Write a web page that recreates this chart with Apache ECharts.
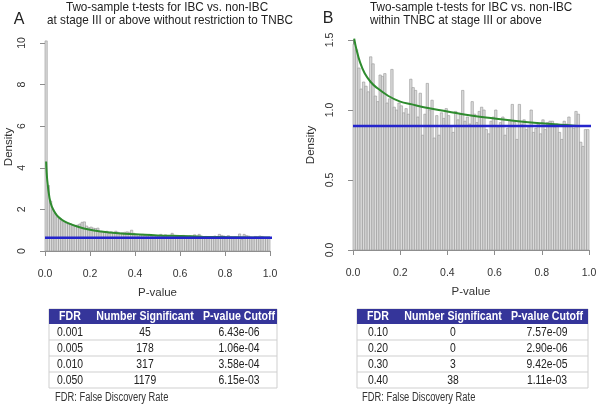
<!DOCTYPE html>
<html><head><meta charset="utf-8">
<script src="https://cdn.jsdelivr.net/npm/echarts@6/dist/echarts.min.js"></script>
<style>html,body{margin:0;padding:0;background:#fff}#c{width:600px;height:405px}</style>
</head><body><div id="c"></div>
<script>
// ---------- data ----------
const binWidth = 0.01;
const densityA = [
10.1,3.15,2.4,2.0,1.8,1.65,1.55,1.45,1.42,1.35,
1.3,1.3,1.25,1.2,1.25,1.3,1.38,1.4,1.2,1.12,
1.15,1.1,1.08,1.1,0.95,0.92,0.9,0.95,0.85,0.92,
0.88,0.95,0.9,0.85,0.88,0.9,0.92,0.9,1.0,0.85,
0.8,0.7,0.78,0.8,0.75,0.72,0.8,0.7,0.75,0.72,
0.7,0.8,0.72,0.78,0.72,0.68,0.85,0.75,0.7,0.72,
0.68,0.75,0.7,0.68,0.72,0.66,0.78,0.7,0.8,0.68,
0.65,0.7,0.66,0.68,0.64,0.72,0.68,0.8,0.75,0.72,
0.7,0.74,0.66,0.62,0.66,0.6,0.82,0.55,0.8,0.74,
0.72,0.66,0.6,0.7,0.68,0.72,0.7,0.66,0.62,0.6];
const densityB = [
1.47,1.43,1.30,1.15,1.20,1.17,1.13,1.38,1.33,1.10,
1.06,1.25,1.24,1.26,1.05,1.08,1.29,1.02,1.00,1.05,
1.03,0.98,1.01,0.97,1.22,1.16,1.14,0.95,1.12,0.82,
0.97,1.19,1.00,1.07,0.80,0.96,0.82,0.98,0.94,1.01,
0.96,0.88,0.84,0.99,0.93,0.97,1.14,0.92,0.95,0.90,
1.06,0.97,0.91,0.99,1.02,1.00,0.86,0.83,0.92,0.95,
1.00,0.88,0.91,0.95,0.82,0.87,0.93,1.04,0.91,0.79,
1.04,0.90,0.93,0.86,0.88,1.00,0.84,0.87,0.90,0.83,
0.93,0.86,0.91,0.92,0.92,0.88,0.90,0.84,0.79,0.92,
0.90,0.95,0.89,0.87,0.99,0.97,0.77,0.74,0.86,0.86];
const fitA = [[0.005,4.3],[0.01,3.4],[0.02,2.55],[0.03,2.15],[0.05,1.75],[0.075,1.5],[0.1,1.35],[0.15,1.15],[0.2,1.02],[0.25,0.94],[0.3,0.88],[0.4,0.8],[0.5,0.75],[0.6,0.72],[0.7,0.69],[0.8,0.67],[0.9,0.655],[1.0,0.645]];
const fitB = [[0.005,1.51],[0.015,1.43],[0.03,1.34],[0.05,1.26],[0.075,1.2],[0.1,1.16],[0.15,1.10],[0.2,1.06],[0.25,1.04],[0.3,1.02],[0.4,0.99],[0.5,0.96],[0.6,0.94],[0.7,0.92],[0.8,0.905],[0.9,0.893],[0.95,0.886]];
const pi0A = 0.64, pi0B = 0.886;
const lineSpan = [0, 1.04];
const titleA = ['Two-sample t-tests for IBC vs. non-IBC','at stage III or above without restriction to TNBC'];
const titleB = ['Two-sample t-tests for IBC vs. non-IBC','within TNBC at stage III or above'];
const tableHeader = ['FDR','Number Significant','P-value Cutoff'];
const tableARows = [['0.001','45','6.43e-06'],['0.005','178','1.06e-04'],['0.010','317','3.58e-04'],['0.050','1179','6.15e-03']];
const tableBRows = [['0.10','0','7.57e-09'],['0.20','0','2.90e-06'],['0.30','3','9.42e-05'],['0.40','38','1.11e-03']];
const footnote = 'FDR: False Discovery Rate';

// ---------- chart ----------
const FONT = 'Liberation Sans, Arial, sans-serif';
const AX = '#8c8c8c';
function histRender(params, api){
  const p0 = api.coord([api.value(0), api.value(2)]);
  const p1 = api.coord([api.value(1), 0]);
  return {type:'rect', shape:{x:p0[0], y:p0[1], width:p1[0]-p0[0], height:p1[1]-p0[1]},
    style:{fill:'#dadada', stroke:'#959595', lineWidth:0.6}};
}
function xAx(gi){
  return {gridIndex:gi, type:'value', min:0, max:1, interval:0.2, offset:9,
    axisLine:{lineStyle:{color:AX}}, axisTick:{length:5, lineStyle:{color:AX}},
    splitLine:{show:false},
    axisLabel:{formatter:v=>v.toFixed(1), color:'#333', fontSize:10.5, fontFamily:FONT, margin:9},
    name:'P-value', nameLocation:'middle', nameGap:27, nameTextStyle:{color:'#333', fontSize:11.5, fontFamily:FONT}};
}
function yAx(gi, max, iv, gap){
  return {gridIndex:gi, type:'value', min:0, max:max, interval:iv, offset:10,
    axisLine:{show:true, lineStyle:{color:AX}}, axisTick:{show:true, length:5, lineStyle:{color:AX}},
    splitLine:{show:false},
    axisLabel:{rotate:90, formatter:v=>(iv<1? v.toFixed(1): String(v)), color:'#333', fontSize:10.5, fontFamily:FONT, margin:7},
    name:'Density', nameLocation:'middle', nameRotate:90, nameGap:gap, nameTextStyle:{color:'#333', fontSize:11.5, fontFamily:FONT}};
}
function hist(gi, arr){
  return {type:'custom', xAxisIndex:gi, yAxisIndex:gi, renderItem:histRender, clip:false,
    encode:{x:[0,1], y:2}, data: arr.map((v,i)=>[i*binWidth,(i+1)*binWidth,v]), z:1};
}
function curve(gi, pts){
  return {type:'line', xAxisIndex:gi, yAxisIndex:gi, data:pts, smooth:0.4, symbol:'none', clip:false,
    lineStyle:{color:'#2e8b2e', width:2}, z:3};
}
function hline(gi, v){
  return {type:'line', xAxisIndex:gi, yAxisIndex:gi, data:lineSpan.map(x=>[x,v]), symbol:'none', clip:false,
    lineStyle:{color:'#2424cc', width:2.5}, z:4};
}
function txt(x, y, s, o){
  o = o || {};
  return {type:'text', x:x, y:y, scaleX:o.sx||0.87, z:10,
    style:{text:s, fill:o.fill||'#222', font:(o.bold?'bold ':'')+(o.size||12)+'px '+FONT,
      textAlign:o.align||'center', textVerticalAlign:'middle'}};
}
function table(x0, x1, cols, rows, top){
  const els = [];
  const hh = 15, rh = 16;
  const bottom = top + hh + rh*rows.length;
  els.push({type:'rect', shape:{x:x0, y:top, width:x1-x0, height:bottom-top}, style:{fill:'#fff', stroke:'#cfcfcf', lineWidth:1}});
  els.push({type:'rect', shape:{x:x0, y:top, width:x1-x0, height:hh}, style:{fill:'#35359a'}});
  tableHeader.forEach((h,j)=>els.push(txt(cols[j], top+hh/2+0.5, h, {bold:true, fill:'#fff', sx:0.85, size:12.5})));
  rows.forEach((r,i)=>{
    const y = top+hh+rh*i;
    if(i>0) els.push({type:'line', shape:{x1:x0, y1:y, x2:x1, y2:y}, style:{stroke:'#cfcfcf', lineWidth:1}});
    r.forEach((c,j)=>els.push(txt(cols[j], y+rh/2+0.5, c, {sx:0.83, size:12.5})));
  });
  return els;
}
const graphics = [].concat(
  [txt(167, 7, titleA[0], {size:13, sx:0.9}), txt(170, 20, titleA[1], {size:13, sx:0.9}),
   txt(19, 19.5, 'A', {size:16, sx:1}),
   txt(370, 7, titleB[0], {size:13, sx:0.9, align:'left'}), txt(370, 20, titleB[1], {size:13, sx:0.9, align:'left'}),
   txt(328, 19, 'B', {size:16, sx:1}),
   txt(55, 398, footnote, {size:12, sx:0.78, align:'left', fill:'#333'}),
   txt(362, 398, footnote, {size:12, sx:0.78, align:'left', fill:'#333'})],
  table(49, 277, [70, 145, 239], tableARows, 309),
  table(357, 588, [378, 453, 547], tableBRows, 309)
);
const chart = echarts.init(document.getElementById('c'));
chart.setOption({
  animation:false,
  grid:[{left:45, width:225, top:43, height:208}, {left:353, width:236, top:40, height:210}],
  xAxis:[xAx(0), xAx(1)],
  yAxis:[yAx(0, 10, 2, 20), yAx(1, 1.5, 0.5, 26)],
  series:[hist(0, densityA), curve(0, fitA), hline(0, pi0A), hist(1, densityB), curve(1, fitB), hline(1, pi0B)],
  graphic:graphics
});
</script></body></html>
